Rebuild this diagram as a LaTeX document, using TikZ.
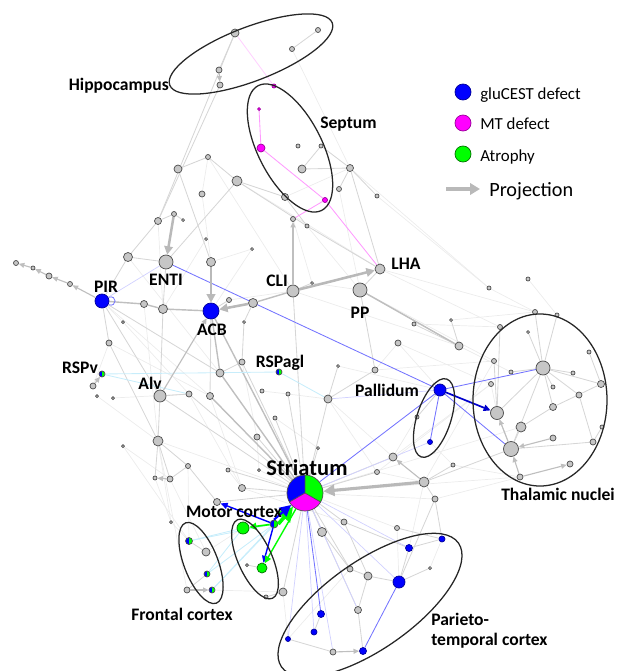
\documentclass[tikz,border=0pt]{standalone}
\usepackage{fontspec}
\setmainfont{Carlito}
\usetikzlibrary{arrows.meta,backgrounds}
\definecolor{mtpink}{RGB}{255,0,255}
\definecolor{atgreen}{RGB}{0,255,0}

\tikzset{
  gnode/.style={circle, inner sep=0pt, fill=gray!45, draw=gray!60!black, line width=0.5pt, minimum size=#1*0.05cm},
  bnode/.style={gnode=#1, fill=blue, draw=blue!60!black},
  mnode/.style={gnode=#1, fill=mtpink, draw=mtpink!60!black},
  grnode/.style={gnode=#1, fill=atgreen, draw=atgreen!45!black},
  bgnode/.style={gnode=#1, fill=none, path picture={
      \fill[blue] (path picture bounding box.north west) rectangle (path picture bounding box.south);
      \fill[atgreen] (path picture bounding box.north) rectangle (path picture bounding box.south east);}},
  edge/.style={draw=gray!32, line width=0.6pt},
  faint/.style={draw=gray!15, line width=0.5pt},
  dark/.style={draw=gray!50, line width=1pt},
  proj/.style={draw=gray!55, line width=1.8pt, -{Triangle[length=6pt,width=6pt]}},
  sproj/.style={draw=gray!50, line width=0.8pt, -{Triangle[length=4pt,width=3.5pt]}},
  bedge/.style={draw=blue!55, line width=0.6pt},
  fbedge/.style={draw=blue!18, line width=0.5pt},
  medge/.style={draw=mtpink!40, line width=0.6pt},
  cedge/.style={draw=cyan!22, line width=0.6pt},
  region/.style={draw=black!85, line width=0.9pt},
  lbl/.style={font=\fontsize{12.5}{14}\selectfont\bfseries, inner sep=0pt, anchor=base},
  legtxt/.style={font=\fontsize{12}{14}\selectfont, inner sep=0pt, anchor=base west}
}

\begin{document}
\begin{tikzpicture}[x=0.025cm, y=-0.025cm]
  \useasboundingbox (0,0) rectangle (617,671);

  % gray regions
  \foreach \n/\x/\y/\r in {h1/235/33/4, h2/318/30/2.5, h3/292/49/2.5, h4/219/70/3, h5/220/85/3,
      s4/298/146/2, s5/302/169/4, s6/285/197/3.5,
      c1/350/168/3.5, c2/339/189/2.5, c3/377/196/2, c4/321/146/2, c5/208/157/2.5, c6/178/169/4,
      c7/237/181/5, c8/202/194/3, c9/174/214/2.5, c10/183/220/1.5, c11/158/221/3.5, c12/293/219/2.5,
      c13/307/226/2, c14/206/239/1.5, c15/252/249/1.5, c16/128/257/4.5, c17/211/262/4.5,
      c18/16/263/2.5, c19/33/268/2, c20/49/276/3, c21/70/284/2.5, c22/312/283/1.5, c23/144/304/3.5,
      c24/163/309/4.5, c25/229/300/2.5, c26/253/303/4.5, c27/123/322/1.5, c28/244/322/1.5,
      c29/109/343/3, c30/242/362/3, c31/220/373/4, c32/93/386/3, c33/97/396/1.5, c34/113/398/1.5,
      c35/189/394/3, c36/210/396/3.5, c37/262/391/2, c38/288/394/2, c39/275/418/2, c40/158/441/5,
      c41/257/437/3, c42/123/446/1.5, c43/338/366/1.5, c44/328/399/4, c45/375/370/3, c47/414/324/2,
      c48/451/320/1.5, c49/398/343/3, c50/459/346/4, c51/489/288/2, c52/528/279/2, c53/318/448/1.5,
      c54/188/466/2.5, c55/228/470/2, c56/259/470/1.5, c57/155/478/2, c58/170/479/3, c59/242/488/3.5,
      c60/217/502/3.5, c61/171/522/1.5, c62/393/457/4, c63/453/465/2, c64/377/472/2.5, c65/424/482/5,
      c66/435/499/3, c67/344/522/3, c68/322/532/4.5, c69/397/528/2.5, c71/283/592/4,
      ENTI/166/262/7, CLI/293/291/6, LHA/380/269/5, PP/360/290/7, Alv/160/396/6, pl2/417/417/2,
      t1/535/312/2.5, t2/557/315/2, t3/500/327/2.5, t4/528/332/1.5, t5/589/352/2, t6/494/361/2.5,
      t7/543/368/7, t8/511/372/2, t9/573/373/2, t10/491/384/2.5, t11/553/387/2, t12/601/384/3.5,
      t13/579/395/3, t14/497/413/6.5, t15/553/407/3.5, t16/521/427/5, t17/602/427/2, t18/511/449/7.5,
      t19/553/438/3, t20/593/442/3, t21/570/464/3, t22/520/477/3,
      f2/206/552/4, f5/187/590/3, m3/247/565/1.5, m5/266/597/2,
      p3/430/568/1.5, p4/350/569/3, p5/368/576/4, p7/358/610/3.5, p10/333/652/3}
    \node[gnode=\r] (\n) at (\x,\y) {};

  \foreach \n/\x/\y/\r in {PIR/102/301/7, ACB/211/311/8, pal/440/390/6, pl1/430/442/2.5,
      p1/442/539/3, p2/409/548/3.5, p6/399/582/6, p8/321/614/3.5, p9/314/632/3, p11/363/651/3.5, p12/288/639/2.5}
    \node[bnode=\r] (\n) at (\x,\y) {};
  \foreach \n/\x/\y/\r in {s1/274/86/2, s2/259/109/1.5, s3/261/148/4, s7/325/200/2.5}
    \node[mnode=\r] (\n) at (\x,\y) {};
  \foreach \n/\x/\y/\r in {m1/243/528/6, m2/262/568/5}
    \node[grnode=\r] (\n) at (\x,\y) {};
  \foreach \n/\x/\y/\r in {RSPv/102/374/3, RSPagl/279/372/3, f1/189/541/3.5, f3/207/574/3, f4/212/590/3, m4/274/524/4}
    \node[bgnode=\r] (\n) at (\x,\y) {};

  \node[gnode=18, fill=none, path picture={
      \fill[blue] (path picture bounding box.center) -- +(90:1cm) -- +(150:1.5cm) -- +(210:1cm) -- cycle;
      \fill[atgreen] (path picture bounding box.center) -- +(90:1cm) -- +(30:1.5cm) -- +(-30:1cm) -- cycle;
      \fill[mtpink] (path picture bounding box.center) -- +(210:1cm) -- +(270:1.5cm) -- +(-30:1cm) -- cycle;
      \draw[gray!60!black, line width=0.5pt] (path picture bounding box.center) -- +(90:1cm)
        (path picture bounding box.center) -- +(210:1cm) (path picture bounding box.center) -- +(-30:1cm);}]
    (str) at (305,493) {};

  \begin{pgfonlayer}{background}
    \foreach \a/\b in {LHA/t1, LHA/t3, c51/t1, c52/t2, c49/t10, c45/t6, PP/t6, CLI/c50, c1/c51, c3/c51,
        c7/LHA, c5/CLI, c16/c31, c29/c36, PIR/c36, c27/c35, c23/c40, c40/f5, c42/f1, c40/c61, c61/f1,
        c54/f1, c58/f2, c35/c59, c36/c59, c40/str, c59/c67, str/c69, str/c66, str/t22, str/t16,
        c64/c65, c63/t22, c64/t10, c69/p6, c65/p2, c44/c64, c38/c44, c30/c41, c8/c17, c12/c22,
        CLI/c25, ACB/c15, c15/c17, c11/c24, c14/c24, h3/c1, c5/c8, s6/c1, c2/PP, c13/PP, c22/PP,
        c47/t3, c48/t1, c50/t8, c62/t10, c66/t22, c65/t6, PIR/c27, c29/c32, c33/c40, c34/c35,
        c37/c38, c43/pal, c39/c53, p3/p1, p4/p12, c71/p12, m5/c71, f2/m1, f4/c71, c57/c61,
        c42/c58, c41/c56, c56/str, c55/c59, c44/c62, c45/c49, c49/pal, pl2/c62, pl1/c63, t10/t14}
      \draw[faint] (\a) -- (\b);

    \foreach \a/\b in {h1/h4, h2/h3, h1/c11, h5/c11, c5/c7, c7/ENTI, c7/s6, c7/c13, c6/c17, c6/c5,
        c9/c10, c9/c11, c11/c16, c16/ENTI, c16/PIR, ENTI/c24, c24/Alv, PIR/c31, PIR/Alv, PIR/c29,
        ACB/c36, c25/ACB, c26/c28, c28/c30, CLI/c22, CLI/str, c13/LHA, s6/c13, c1/s5, c1/c3, c1/LHA,
        c2/c1, s5/c4, c4/c1, PP/LHA, PP/c50, PP/c45, c45/c44, c44/str, c43/c44, c47/c50, c48/c50,
        Alv/c40, Alv/str, Alv/c35, c35/str, c30/str, c40/c58, c40/c54, c58/c54, c54/c60, c59/str,
        c60/str, c55/str, c41/str, c39/str, c38/str, c53/str, c62/str, c64/str, c67/str, c68/str,
        c65/c66, c66/p1, c65/t18, c63/c65, c69/p1, pal/pl2, t7/t14, t7/t18, t7/t1, t7/t13, t7/t12,
        t7/t15, t14/t18, t16/t18, t3/t14, t18/t20, t15/t16, t12/t15, t13/t20, t17/t20, t8/t7,
        t6/t14, t11/t7, t9/t7, t2/t7, t4/t7, t5/t12, f1/f2, f3/f5, m3/m2, c71/str, c71/m5,
        p1/p2, p2/p6, p6/p5, p5/p4, p4/str, p7/str, p7/p11, p8/p9, c68/p4, c67/p2, c66/p6, p5/c67,
        p12/p10, p7/p5, p3/p6, c29/c40, c40/c57, c31/c30}
      \draw[edge] (\a) -- (\b);

    \foreach \a/\b in {PIR/c23, c23/c24, c24/ACB, ACB/str, c31/str, c36/str, ACB/c31, CLI/c26, PP/c50}
      \draw[dark] (\a) -- (\b);

    \foreach \a/\b in {ENTI/pal, pal/str, pal/t7, pal/t18, pal/pl1, str/p8, p6/p11}
      \draw[bedge] (\a) -- (\b);
    \foreach \a/\b in {PIR/ENTI, str/p9, str/p2, str/p6, str/p12, str/p10, str/pl1, pal/c44, str/p7}
      \draw[fbedge] (\a) -- (\b);
    \foreach \a/\b in {s3/s7, c12/s7, s7/LHA, s2/s3}
      \draw[medge] (\a) -- (\b);
    \draw[medge, draw=mtpink!18] (h1) -- (s1);
    \foreach \a/\b in {RSPv/RSPagl, RSPagl/c44, f1/m4, f3/m4, f4/m4, f1/m1, f3/m1, RSPv/c35, f4/str}
      \draw[cedge] (\a) -- (\b);
  \end{pgfonlayer}

  % projections
  \draw[proj] (c9) -- (ENTI);
  \draw[proj] (c17) -- (ACB);
  \draw[proj] (c26) -- (ACB);
  \draw[proj] (CLI) -- (LHA);
  \draw[proj, line width=2.2pt, -{Triangle[length=8pt,width=8pt]}] (c65) -- (str);
  \draw[sproj] (Alv) -- (ACB);
  \draw[sproj] (c32) -- (RSPv);
  \draw[sproj] (CLI) -- (c12);
  \draw[sproj] (h4) -- (h5);
  \draw[sproj] (c21) -- (c20);
  \draw[sproj] (c20) -- (c19);
  \draw[sproj] (c19) -- (c18);
  \draw[sproj] (PIR) -- (c21);
  \draw[sproj] (c58) -- (c57);
  \draw[sproj] (c65) -- (c62);
  \draw[sproj] (t22) -- (t18);
  \draw[sproj] (t18) -- (t14);
  \draw[sproj] (t22) -- (t21);
  \draw[sproj] (t19) -- (t18);
  \draw[sproj] (f5) -- (f4);
  \draw[sproj] (p10) -- (p11);
  \draw[bedge] (PIR.30) .. controls +(9,-3) and +(9,3) .. (PIR.-30);
  \draw[blue!80!black, line width=1.2pt, -{Triangle[length=5pt,width=4.5pt]}] (pal) -- (t14);
  \draw[atgreen, line width=1.2pt, -{Triangle[length=5pt,width=5pt]}] (m4) -- (m1);
  \draw[blue, line width=1pt, -{Triangle[length=5pt,width=4.5pt]}] (m4) -- (c60);
  \draw[blue, line width=1pt, -{Triangle[length=5pt,width=4.5pt]}] (m4) -- (m2);
  \draw[atgreen, line width=1pt, -{Triangle[length=5pt,width=4.5pt]}] (str) -- (m2);
  \draw[atgreen, line width=2.5pt, -{Triangle[length=10pt,width=11pt]}] (m4.east) -- (str);
  \draw[blue, line width=1.5pt, -{Triangle[length=8pt,width=8pt]}] (m4.north) -- (str);

  % regions
  \draw[region, rotate around={21:(251,54)}] (251,54) ellipse (87 and 27);
  \draw[region, rotate around={-63:(290,148)}] (290,148) ellipse (70 and 32);
  \draw[region, rotate around={72:(434,418)}] (434,418) ellipse (41 and 17);
  \draw[region] (540,400) ellipse (67 and 86);
  \draw[region, rotate around={-69:(201,563)}] (201,563) ellipse (43 and 17);
  \draw[region, rotate around={-66:(255,559)}] (255,559) ellipse (43 and 17);
  \draw[region, rotate around={35:(370,605)}] (370,605) ellipse (108 and 44);

  % labels
  \node[lbl, anchor=base east] (hiplbl) at (169,90) {Hippocampus};
  \node[lbl, anchor=base west] (seplbl) at (320,128) {Septum};
  \node[lbl] (PIRlbl) at (106,292) {PIR};
  \node[lbl] (ENTIlbl) at (166,285) {ENTI};
  \node[lbl] (CLIlbl) at (277,286) {CLI};
  \node[lbl] (ACBlbl) at (212,335) {ACB};
  \node[lbl] (RSPvlbl) at (80,373) {RSPv};
  \node[lbl] (Alvlbl) at (150,389) {Alv};
  \node[lbl] (RSPagllbl) at (280,367) {RSPagl};
  \node[lbl] (LHAlbl) at (406,269) {LHA};
  \node[lbl] (PPlbl) at (360,318) {PP};
  \node[lbl] (pallbl) at (387,396) {Pallidum};
  \node[lbl, font=\fontsize{16}{18}\selectfont\bfseries] (strlbl) at (307,475) {Striatum};
  \node[lbl] (motlbl) at (234,517) {Motor cortex};
  \node[lbl] (frolbl) at (182,620) {Frontal cortex};
  \node[lbl] (thallbl) at (558,500) {Thalamic nuclei};
  \node[lbl, anchor=base west] (parlbl) at (431,625) {Parieto-};
  \node[lbl, anchor=base west] (temlbl) at (431,645) {temporal cortex};

  % legend
  \node[bnode=8] (legb) at (463,92) {};
  \node[mnode=8] (legm) at (463,123) {};
  \node[grnode=8] (legg) at (463,154) {};
  \node[legtxt] (legbt) at (480,99) {gluCEST defect};
  \node[legtxt] (legmt) at (480,129) {MT defect};
  \node[legtxt] (leggt) at (480,161) {Atrophy};
  \coordinate (legp0) at (446,189);
  \coordinate (legp1) at (480,189);
  \draw[draw=gray!55, line width=2.6pt, -{Triangle[length=7pt,width=8pt]}] (legp0) -- (legp1);
  \node[legtxt, font=\fontsize{14.4}{16}\selectfont] (legpt) at (489,196) {Projection};
\end{tikzpicture}
\end{document}
